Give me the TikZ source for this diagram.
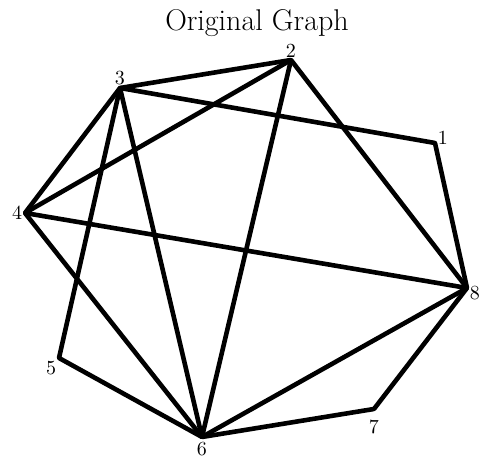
\documentclass[tikz,border=0pt]{standalone}

\begin{document}
\begin{tikzpicture}[
  x=0.5pt, y=-0.5pt,
  vertex/.style={inner sep=0pt, minimum size=0pt},
  every label/.style={inner sep=1pt, font=\normalsize},
  edge/.style={line width=2.3pt, line join=round, line cap=round},
  title/.style={font=\fontsize{15}{17}\selectfont}
]
\useasboundingbox (0,0) rectangle (479,458);

\node[title] (title) at (257,23) {Original Graph};

\node[vertex, label={[yshift=2.5pt]right:1}] (v1) at (435,143) {};
\node[vertex, label=above:2] (v2) at (291,60) {};
\node[vertex, label=above:3] (v3) at (120,88) {};
\node[vertex, label=left:4] (v4) at (25,213) {};
\node[vertex, label=below left:5] (v5) at (59,358) {};
\node[vertex, label={[label distance=1.2pt]below:6}] (v6) at (202,437) {};
\node[vertex, label={[label distance=4pt]below:7}] (v7) at (374,409) {};
\node[vertex, label={[yshift=-2.5pt]right:8}] (v8) at (467,288) {};

\foreach \a/\b in {v3/v2, v3/v1, v1/v8, v2/v4, v2/v8, v2/v6, v3/v4, v3/v5,
                   v3/v6, v4/v8, v4/v6, v5/v6, v6/v8, v6/v7, v7/v8}
  \draw[edge] (\a) -- (\b);

\end{tikzpicture}
\end{document}
